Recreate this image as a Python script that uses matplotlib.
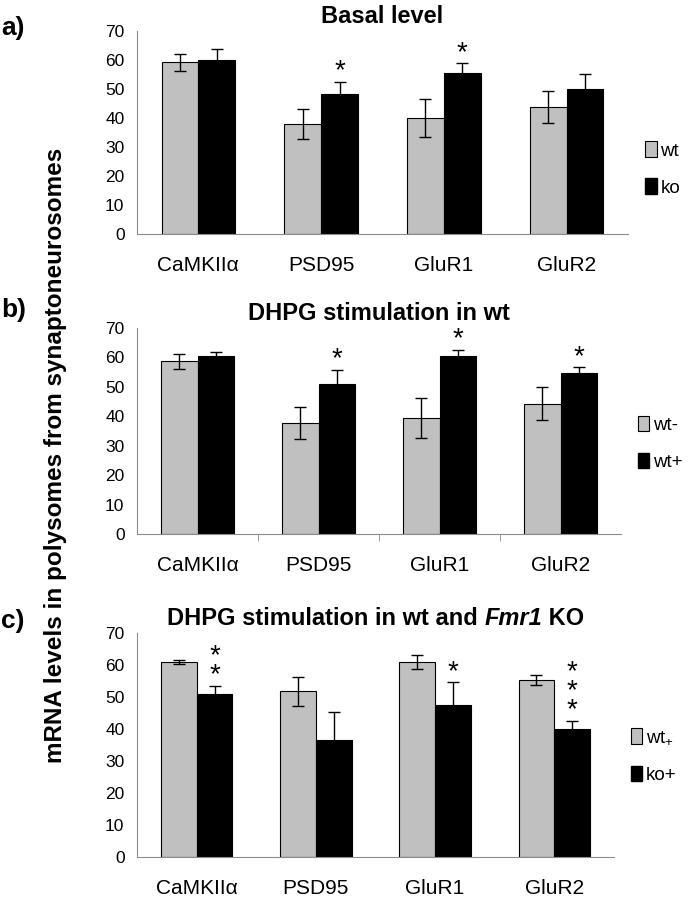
import numpy as np
import matplotlib
matplotlib.use('Agg')
import matplotlib.pyplot as plt
from matplotlib.patches import Patch
from matplotlib.transforms import ScaledTranslation

plt.rcParams['font.family'] = ['Liberation Sans', 'DejaVu Sans']
plt.rcParams['mathtext.fontset'] = 'custom'
plt.rcParams['mathtext.rm'] = 'Liberation Sans'

# 数据
genes = ['CaMKIIα', 'PSD95', 'GluR1', 'GluR2']

# a) Basal level
a_wt = [59.2, 37.9, 40.0, 43.9]
a_wt_err = [3.0, 5.3, 6.7, 5.5]
a_ko = [60.0, 48.3, 55.5, 50.0]
a_ko_err = [3.7, 4.2, 3.4, 5.3]
a_stars = [0, 1, 1, 0]

# b) DHPG stimulation in wt
b_minus = [58.7, 37.7, 39.4, 44.2]
b_minus_err = [2.6, 5.4, 6.8, 5.6]
b_plus = [60.4, 51.0, 60.4, 54.6]
b_plus_err = [1.4, 4.8, 2.2, 2.0]
b_stars = [0, 1, 1, 1]

# c) DHPG stimulation in wt and Fmr1 KO
c_wt = [60.9, 51.8, 60.9, 55.3]
c_wt_err = [0.7, 4.5, 2.1, 1.7]
c_ko = [51.0, 36.5, 47.4, 40.1]
c_ko_err = [2.5, 8.8, 7.3, 2.5]
c_stars = [2, 0, 1, 3]

panels = [
    ('a)', [('Basal level', 'normal')], a_wt, a_wt_err, a_ko, a_ko_err, a_stars, ['wt', 'ko'],
     [137/695, 1-234/899, 491/695, 203/899], 0.32, 16),
    ('b)', [('DHPG stimulation in wt', 'normal')], b_minus, b_minus_err, b_plus, b_plus_err, b_stars,
     ['wt-', 'wt+'], [137/695, 1-534/899, 484/695, 206/899], 0.44, 298),
    ('c)', [('DHPG stimulation in wt and ', 'normal'), ('Fmr1', 'italic'), (' KO', 'normal')],
     c_wt, c_wt_err, c_ko, c_ko_err, c_stars, [r'wt$_{+}$', 'ko+'],
     [137/695, 1-857/899, 477/695, 224/899], 0.45, 609),
]

fig = plt.figure(figsize=(6.95, 8.99), dpi=100)
renderer = fig.canvas.get_renderer()
x = np.arange(len(genes))
w = 0.3
grey = '#c0c0c0'
axcol = '#8c8c8c'


def seg_title(ax, parts, pad_pt, size):
    texts = [ax.text(0.5, 1.0, s, transform=ax.transAxes, fontsize=size, fontweight='bold',
                     fontstyle=st, ha='left', va='baseline') for s, st in parts]
    widths = [t.get_window_extent(renderer).width for t in texts]
    start = -sum(widths) / 2
    for t, wd in zip(texts, widths):
        t.set_transform(ax.transAxes + ScaledTranslation(start / fig.dpi, pad_pt / 72, fig.dpi_scale_trans))
        start += wd


for tag, title, v1, e1, v2, e2, stars, labels, rect, legy, tag_y in panels:
    ax = fig.add_axes(rect)
    ax.bar(x - w/2, v1, w, color=grey, edgecolor='black', linewidth=0.8, zorder=2)
    ax.bar(x + w/2, v2, w, color='black', edgecolor='black', linewidth=0.8, zorder=2)
    ax.errorbar(x - w/2, v1, yerr=e1, fmt='none', ecolor='black', elinewidth=1, capsize=4, capthick=1, zorder=3)
    ax.errorbar(x + w/2, v2, yerr=e2, fmt='none', ecolor='black', elinewidth=1, capsize=4, capthick=1, zorder=3)
    # 星号
    for i, n in enumerate(stars):
        if n == 0:
            continue
        ax.annotate('\n'.join(['*'] * n), xy=(x[i] + w/2, v2[i] + e2[i]), xytext=(0, -2),
                    textcoords='offset points', ha='center', va='bottom', fontsize=20,
                    linespacing=0.66)
    ax.set_xlim(-0.5, 3.5)
    ax.set_ylim(0, 70)
    ax.set_yticks(range(0, 71, 10))
    ax.set_xticks(x)
    ax.set_xticklabels(genes, fontsize=15)
    ax.tick_params(axis='x', length=0, pad=16)
    ax.tick_params(axis='y', length=0, labelsize=12.5, pad=9)
    if tag == 'b)':
        ax.set_xticks([0.5, 1.5, 2.5], minor=True)
        ax.tick_params(axis='x', which='minor', length=5, color=axcol)
    for s in ['top', 'right']:
        ax.spines[s].set_visible(False)
    for s in ['left', 'bottom']:
        ax.spines[s].set_color(axcol)
    seg_title(ax, title, 6, 17)
    fig.text(0.002, 1 - tag_y/899, tag, fontsize=19, fontweight='bold', va='top', ha='left')
    handles = [Patch(facecolor=grey, edgecolor='black', linewidth=0.8),
               Patch(facecolor='black', edgecolor='black')]
    ax.legend(handles, labels, loc='center left', bbox_to_anchor=(1.02, legy), frameon=False,
              handlelength=0.6, handleheight=0.9, handletextpad=0.2, labelspacing=1.0,
              fontsize=13.5, borderaxespad=0)

fig.text(0.08, 0.493, 'mRNA levels in polysomes from synaptoneurosomes', rotation=90,
         ha='center', va='center', fontsize=17.5, fontweight='bold')

fig.savefig('out.png', dpi=100)
